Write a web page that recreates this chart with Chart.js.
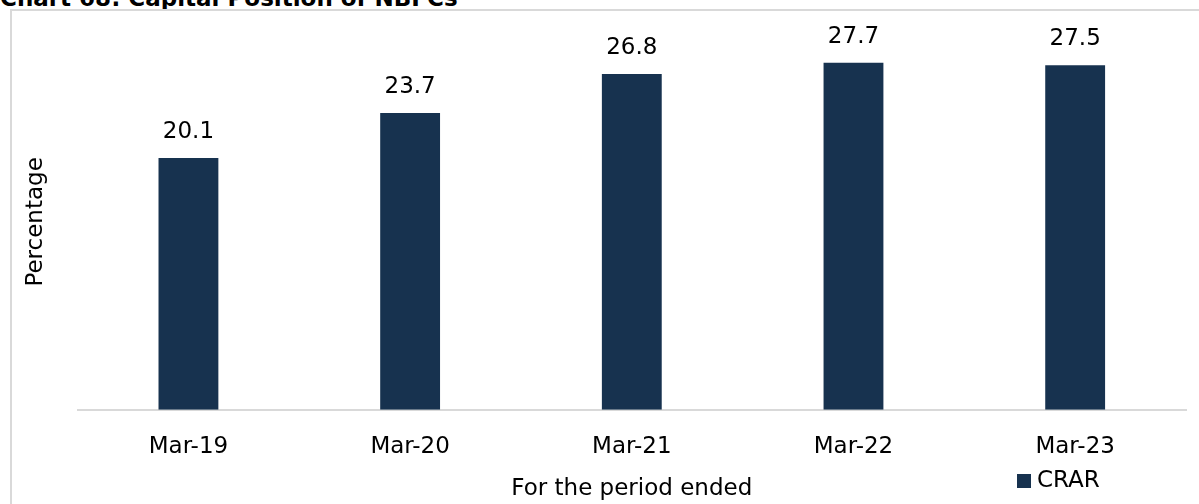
<!DOCTYPE html>
<html>
<head>
<meta charset="utf-8">
<script src="https://cdn.jsdelivr.net/npm/chart.js@4.4.0/dist/chart.umd.min.js"></script>
<style>
  html, body { margin: 0; padding: 0; background: #fff; overflow: hidden; }
  body { width: 1199px; height: 504px; position: relative; }
  #titulo {
    position: absolute; left: 0; top: -13px;
    font: bold 23px "DejaVu Sans", sans-serif; line-height: 22px; color: #000;
    white-space: nowrap;
  }
  #moldura {
    position: absolute; left: 10px; top: 9px; width: 1200px; height: 500px;
    border: 2px solid #d9d9d9; box-sizing: border-box;
  }
  #grafico { position: absolute; left: 0; top: 0; }
</style>
</head>
<body>
<div id="titulo">Chart 68: Capital Position of NBFCs</div>
<div id="moldura"></div>
<canvas id="grafico" width="1199" height="504"></canvas>
<script>
// Dados do gráfico
const periodos = ["Mar-19", "Mar-20", "Mar-21", "Mar-22", "Mar-23"];
const crar = [20.1, 23.7, 26.8, 27.7, 27.5];
const nomeSerie = "CRAR";

const COR_BARRA = "#17324f";
const FONTE = "'DejaVu Sans', sans-serif";

// Rótulos de valor acima das barras
const rotulosValor = {
  id: "rotulosValor",
  afterDatasetsDraw(chart) {
    const ctx = chart.ctx;
    const meta = chart.getDatasetMeta(0);
    ctx.save();
    ctx.font = "23px " + FONTE;
    ctx.fillStyle = "#000";
    ctx.textAlign = "center";
    ctx.textBaseline = "middle";
    meta.data.forEach((bar, i) => {
      ctx.fillText(chart.data.datasets[0].data[i].toFixed(1), bar.x, bar.y - 26);
    });
    ctx.restore();
  }
};

// Legenda simples no canto inferior direito
const legendaCanto = {
  id: "legendaCanto",
  afterDraw(chart) {
    const ctx = chart.ctx;
    const ds = chart.data.datasets[0];
    const x = chart.chartArea.right - 169;
    const y = 481;
    ctx.save();
    ctx.fillStyle = ds.backgroundColor;
    ctx.fillRect(x, y - 7, 14, 14);
    ctx.font = "23px " + FONTE;
    ctx.fillStyle = "#000";
    ctx.textAlign = "left";
    ctx.textBaseline = "middle";
    ctx.fillText(ds.label, x + 20, y);
    ctx.restore();
  }
};

new Chart(document.getElementById("grafico"), {
  type: "bar",
  data: {
    labels: periodos,
    datasets: [{
      label: nomeSerie,
      data: crar,
      backgroundColor: COR_BARRA,
      barPercentage: 0.27,
      categoryPercentage: 1
    }]
  },
  options: {
    responsive: false,
    animation: false,
    layout: { padding: { left: 10, right: 13, top: 34, bottom: 1 } },
    plugins: {
      legend: { display: false },
      tooltip: { enabled: false }
    },
    scales: {
      x: {
        grid: { display: false, drawTicks: false },
        border: { display: true, color: "#d9d9d9", width: 2 },
        ticks: { color: "#000", font: { family: FONTE, size: 23 }, padding: 23 },
        title: {
          display: true,
          text: "For the period ended",
          color: "#000",
          font: { family: FONTE, size: 23 },
          padding: { top: -8, bottom: 0 }
        }
      },
      y: {
        min: 0,
        max: 30,
        grid: { display: false, drawTicks: false },
        border: { display: false },
        ticks: { display: false },
        title: {
          display: true,
          text: "Percentage",
          color: "#000",
          font: { family: FONTE, size: 23 },
          padding: { top: 12, bottom: 28 }
        }
      }
    }
  },
  plugins: [rotulosValor, legendaCanto]
});
</script>
</body>
</html>
